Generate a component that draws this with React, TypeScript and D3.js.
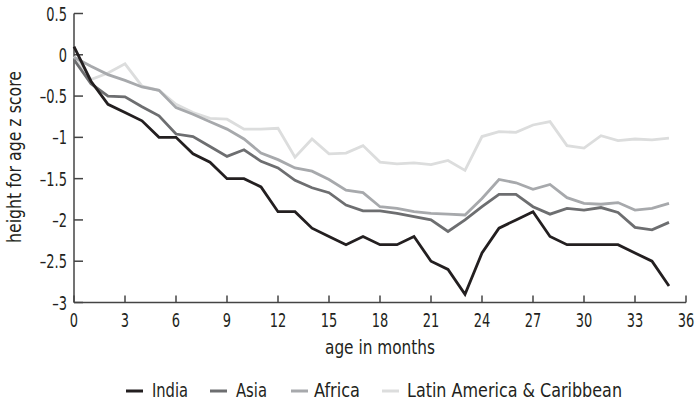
import React from "react";
import * as d3 from "d3";

const months: number[] = Array.from({ length: 36 }, (_, i) => i);

const india: number[] = [
  0.1, -0.32, -0.6, -0.7, -0.8, -1.0, -1.0, -1.2, -1.3, -1.5, -1.5,
  -1.6, -1.9, -1.9, -2.1, -2.2, -2.3, -2.2, -2.3, -2.3, -2.2,
  -2.5, -2.6, -2.9, -2.4, -2.1, -2.0, -1.9, -2.2, -2.3, -2.3,
  -2.3, -2.3, -2.4, -2.5, -2.8,
];
const asia: number[] = [
  -0.06, -0.35, -0.5, -0.51, -0.63, -0.74, -0.96, -0.99, -1.11, -1.23, -1.15,
  -1.29, -1.37, -1.52, -1.61, -1.67, -1.82, -1.89, -1.89, -1.92, -1.96,
  -2.0, -2.14, -2.0, -1.84, -1.69, -1.69, -1.84, -1.93, -1.86, -1.88,
  -1.85, -1.91, -2.09, -2.12, -2.03,
];
const africa: number[] = [
  -0.03, -0.14, -0.24, -0.31, -0.39, -0.43, -0.64, -0.72, -0.81, -0.9, -1.02,
  -1.19, -1.27, -1.37, -1.41, -1.51, -1.64, -1.67, -1.84, -1.86, -1.9,
  -1.92, -1.93, -1.94, -1.74, -1.51, -1.55, -1.63, -1.57, -1.73, -1.8,
  -1.81, -1.79, -1.88, -1.86, -1.8,
];
const latin: number[] = [
  -0.02, -0.3, -0.22, -0.11, -0.38, -0.43, -0.6, -0.7, -0.77, -0.78, -0.9,
  -0.9, -0.89, -1.24, -1.02, -1.2, -1.19, -1.1, -1.3, -1.32, -1.31,
  -1.33, -1.28, -1.4, -0.99, -0.93, -0.94, -0.85, -0.81, -1.1, -1.13,
  -0.98, -1.04, -1.02, -1.03, -1.01,
];

const seriesNames = ["India", "Asia", "Africa", "Latin America & Caribbean"];
const seriesData = [india, asia, africa, latin];
const seriesColors = ["#231f20", "#6d6e70", "#a7a9ac", "#dcdddd"];

const xTicks = [0, 3, 6, 9, 12, 15, 18, 21, 24, 27, 30, 33, 36];
const yTicks = [0.5, 0, -0.5, -1, -1.5, -2, -2.5, -3];

const FONT = "'DejaVu Sans Condensed', 'Liberation Sans Narrow', sans-serif";
const TEXT = "#231f20";
const SX = 0.76;

const fmtY = (t: number) => (t < 0 ? "\u2013" + String(-t) : String(t));

export default function App() {
  const W = 696;
  const H = 404;
  const x = d3.scaleLinear().domain([0, 36]).range([74, 686]);
  const y = d3.scaleLinear().domain([-3, 0.5]).range([302.5, 13.5]);
  const line = d3
    .line<number>()
    .x((_, i) => x(months[i]))
    .y((d) => y(d));

  const legendItems = [
    { lx: 126, tx: 152, w: 36 },
    { lx: 210, tx: 236, w: 31 },
    { lx: 291, tx: 314, w: 46 },
    { lx: 382, tx: 407, w: 215 },
  ];

  return (
    <svg
      width={W}
      height={H}
      style={{ position: "absolute", left: 0, top: 0 }}
      fontFamily={FONT}
    >
      <rect width={W} height={H} fill="#ffffff" />
      <line x1={x(0)} x2={x(0)} y1={y(0.5)} y2={y(-3)} stroke="#444" strokeWidth={1.5} />
      <line x1={x(0)} x2={x(36)} y1={y(-3)} y2={y(-3)} stroke="#444" strokeWidth={1.5} />
      {yTicks.map((t) => (
        <g key={"y" + t}>
          <line x1={x(0)} x2={x(0) + 9} y1={y(t)} y2={y(t)} stroke="#444" strokeWidth={1.5} />
          <text
            transform={`translate(67, ${y(t) + 7}) scale(${SX}, 1)`}
            textAnchor="end"
            fontSize={19}
            fill={TEXT}
          >
            {fmtY(t)}
          </text>
        </g>
      ))}
      {xTicks.map((t) => (
        <g key={"x" + t}>
          <line x1={x(t)} x2={x(t)} y1={y(-3)} y2={y(-3) - 7} stroke="#444" strokeWidth={1.5} />
          <text
            transform={`translate(${x(t)}, 326.7) scale(${SX}, 1)`}
            textAnchor="middle"
            fontSize={19}
            fill={TEXT}
          >
            {t}
          </text>
        </g>
      ))}
      {[3, 2, 1, 0].map((k) => (
        <path
          key={seriesNames[k]}
          d={line(seriesData[k]) || ""}
          fill="none"
          stroke={seriesColors[k]}
          strokeWidth={2.8}
          strokeLinejoin="miter"
        />
      ))}
      <text
        x={325}
        y={353.5}
        fontSize={19}
        fill={TEXT}
        textLength={110}
        lengthAdjust="spacingAndGlyphs"
      >
        age in months
      </text>
      <text
        transform={`translate(21, 157) rotate(-90)`}
        textAnchor="middle"
        fontSize={19}
        fill={TEXT}
        textLength={172}
        lengthAdjust="spacingAndGlyphs"
      >
        height for age z score
      </text>
      {seriesNames.map((n, i) => (
        <g key={"lg" + n}>
          <line
            x1={legendItems[i].lx}
            x2={legendItems[i].lx + 17}
            y1={391}
            y2={391}
            stroke={seriesColors[i]}
            strokeWidth={3}
          />
          <text
            x={legendItems[i].tx}
            y={397}
            fontSize={19}
            fill={TEXT}
            textLength={legendItems[i].w}
            lengthAdjust="spacingAndGlyphs"
          >
            {n}
          </text>
        </g>
      ))}
    </svg>
  );
}
